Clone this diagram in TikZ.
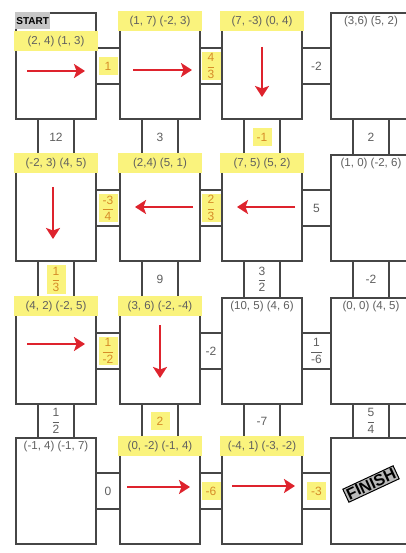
\documentclass[tikz,border=0pt]{standalone}
\usepackage{fontspec}
\setmainfont{Liberation Sans}
\usetikzlibrary{positioning}
\usetikzlibrary{arrows.meta}
\usetikzlibrary{calc}

\definecolor{hlyellow}{RGB}{250,243,125}
\definecolor{wiregray}{RGB}{70,70,70}
\definecolor{txtgray}{RGB}{95,95,95}
\definecolor{hltext}{RGB}{214,140,40}
\definecolor{pathred}{RGB}{222,35,45}

\newcommand{\fr}[2]{{\fontsize{12}{14}\selectfont$\displaystyle\frac{\mbox{#1}}{\mbox{#2}}$}}

\begin{document}
\begin{tikzpicture}[x=1pt,y=-1pt,
    cell/.style={draw=wiregray,line width=1.6pt,minimum width=80pt,minimum height=106pt,inner sep=0pt},
    wire/.style={draw=wiregray,line width=1.6pt},
    plainlbl/.style={anchor=north,text=txtgray,font=\fontsize{11.5}{13}\selectfont,minimum width=84pt,minimum height=20pt,inner sep=0pt},
    hllbl/.style={plainlbl,fill=hlyellow},
    plainnum/.style={text=txtgray,font=\fontsize{12}{14}\selectfont,inner sep=2pt,minimum width=19pt,minimum height=18pt},
    hlnum/.style={plainnum,fill=hlyellow,text=hltext},
    move/.style={pathred,line width=2.6pt,-{Stealth[length=11pt,width=14pt,inset=2.5pt]}}]
        % Page
        \fill[white] (0,0) rectangle (405,553);
        \useasboundingbox (0,0) rectangle (405,553);

        % Draw the cells
        \foreach \c/\x in {1/56,2/160,3/262,4/371}
            \foreach \r/\y in {1/66,2/208,3/351,4/491}
                \node[cell] (c\r\c) at (\x,\y) {};

        % Horizontal links
        \foreach \r/\c/\val/\st in {1/1/1/hlnum, 1/2/{\fr{4}{3}}/hlnum, 1/3/-2/plainnum,
                2/1/{\fr{-3}{4}}/hlnum, 2/2/{\fr{2}{3}}/hlnum, 2/3/5/plainnum,
                3/1/{\fr{1}{-2}}/hlnum, 3/2/-2/plainnum, 3/3/{\fr{1}{-6}}/plainnum,
                4/1/0/plainnum, 4/2/-6/hlnum, 4/3/-3/hlnum}
        {
            \pgfmathtruncatemacro{\n}{\c+1}
            \draw[wire] ([yshift=18pt]c\r\c.east) -- ([yshift=18pt]c\r\n.west);
            \draw[wire] ([yshift=-18pt]c\r\c.east) -- ([yshift=-18pt]c\r\n.west);
            \node[\st] (h\r\c) at ($(c\r\c.east)!0.5!(c\r\n.west)$) {\val};
        }

        % Vertical links
        \foreach \r/\c/\val/\st in {1/1/12/plainnum, 1/2/3/plainnum, 1/3/-1/hlnum, 1/4/2/plainnum,
                2/1/{\fr{1}{3}}/hlnum, 2/2/9/plainnum, 2/3/{\fr{3}{2}}/plainnum, 2/4/-2/plainnum,
                3/1/{\fr{1}{2}}/plainnum, 3/2/2/hlnum, 3/3/-7/plainnum, 3/4/{\fr{5}{4}}/plainnum}
        {
            \pgfmathtruncatemacro{\n}{\r+1}
            \draw[wire] ([xshift=-18pt]c\r\c.south) -- ([xshift=-18pt]c\n\c.north);
            \draw[wire] ([xshift=18pt]c\r\c.south) -- ([xshift=18pt]c\n\c.north);
            \node[\st] (v\r\c) at ($(c\r\c.south)!0.5!(c\n\c.north)$) {\val};
        }

        % Point pairs
        \foreach \r/\c/\txt/\st in {1/2/{(1, 7) (-2, 3)}/hllbl, 1/3/{(7, -3) (0, 4)}/hllbl,
                1/4/{(3,6) (5, 2)}/plainlbl, 2/1/{(-2, 3) (4, 5)}/hllbl,
                2/2/{(2,4) (5, 1)}/hllbl, 2/3/{(7, 5) (5, 2)}/hllbl,
                2/4/{(1, 0) (-2, 6)}/plainlbl, 3/1/{(4, 2) (-2, 5)}/hllbl,
                3/2/{(3, 6) (-2, -4)}/hllbl, 3/3/{(10, 5) (4, 6)}/plainlbl,
                3/4/{(0, 0) (4, 5)}/plainlbl, 4/1/{(-1, 4) (-1, 7)}/plainlbl,
                4/2/{(0, -2) (-1, 4)}/hllbl, 4/3/{(-4, 1) (-3, -2)}/hllbl}
            \node[\st,yshift=1pt] (l\r\c) [below=0pt of c\r\c.north] {\txt};

        \node[anchor=north west,fill=gray!45,text=black,font=\fontsize{10}{12}\selectfont\bfseries,
            inner sep=1pt,minimum height=17pt] (start) at (c11.north west) {START};
        \node[hllbl,yshift=-19pt] (l11) at (c11.north) {(2, 4) (1, 3)};

        % The path
        \foreach \cc/\dx/\dy/\ex/\ey in {11/-29/5/29/5, 12/-27/4/32/4, 13/0/-19/0/31,
                23/33/-1/-25/-1, 22/33/-1/-25/-1, 21/-3/-21/-3/31,
                31/-29/-7/29/-7, 32/0/-26/0/27, 42/-33/-4/30/-4, 43/-30/-5/33/-5}
            \draw[move] ([shift={(\dx,\dy)}]c\cc.center) -- ([shift={(\ex,\ey)}]c\cc.center);

        \node[fill=gray!55,draw=black,line width=1pt,text=black,rotate=25,
            font=\fontsize{16}{18}\selectfont\bfseries,inner sep=1.5pt] (finish) at ([yshift=7pt]c44.center) {FINISH};
\end{tikzpicture}
\end{document}
